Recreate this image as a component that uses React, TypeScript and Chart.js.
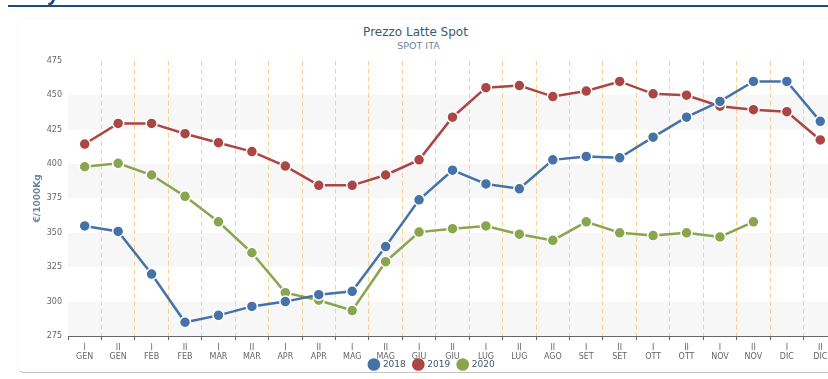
import React, { useEffect, useRef } from "react";
import { Chart, registerables } from "chart.js";

Chart.register(...registerables);

const halves = ["I", "II", "I", "II", "I", "II", "I", "II", "I", "II", "I", "II", "I", "II", "II", "I", "II", "I", "II", "I", "II", "I", "II"];
const months = ["GEN", "GEN", "FEB", "FEB", "MAR", "MAR", "APR", "APR", "MAG", "MAG", "GIU", "GIU", "LUG", "LUG", "AGO", "SET", "SET", "OTT", "OTT", "NOV", "NOV", "DIC", "DIC"];

const seriesNames = ["2018", "2019", "2020"];
const values2018 = [355, 351, 320, 285, 290, 296.5, 300, 305, 307.5, 340, 374, 395.5, 385.5, 382, 403, 405.5, 404.5, 419.5, 434, 445.5, 460, 460, 431];
const values2019 = [414.5, 429.5, 429.5, 422, 415.5, 409, 398.5, 384.5, 384.5, 392, 403, 434, 455.5, 457, 449, 453, 460, 451, 450, 442, 439.5, 438, 417.5];
const values2020 = [398, 400.5, 392, 376.5, 358, 335.5, 306.5, 301, 293.5, 329, 350.5, 353, 355, 349, 344.5, 358, 350, 348, 350, 347, 358, null, null];

const yMin = 275;
const yMax = 475;
const yStep = 25;
const bandStarts = [275, 325, 375, 425];

const colors = ["#4572A7", "#AA4643", "#89A54E"];
const FONT = "'DejaVu Sans', sans-serif";

const bandsPlugin = {
  id: "bands",
  beforeDraw(chart: any) {
    const { ctx, chartArea, scales } = chart;
    const y = scales.y;
    ctx.save();
    ctx.fillStyle = "#f7f7f7";
    bandStarts.forEach((b) => {
      const top = y.getPixelForValue(b + yStep);
      const bottom = y.getPixelForValue(b);
      ctx.fillRect(chartArea.left, top, chartArea.right - chartArea.left, bottom - top);
    });
    ctx.restore();
  },
};

export default function App() {
  const ref = useRef<HTMLCanvasElement>(null);

  useEffect(() => {
    if (!ref.current) return;
    const labels = halves.map((h, i) => [h, months[i]]);
    const allValues = [values2018, values2019, values2020];
    const chart = new Chart(ref.current, {
      type: "line",
      data: {
        labels,
        datasets: allValues.map((vals, i) => ({
          label: seriesNames[i],
          data: vals,
          borderColor: colors[i],
          backgroundColor: colors[i],
          borderWidth: 2.5,
          pointRadius: 5.5,
          pointHoverRadius: 5.5,
          pointBackgroundColor: colors[i],
          pointBorderColor: "#ffffff",
          pointBorderWidth: 1.5,
          tension: 0,
          spanGaps: false,
        })),
      },
      options: {
        responsive: false,
        animation: false,
        layout: { padding: { left: 6, right: 4, top: 10, bottom: 0 } },
        plugins: {
          title: { display: false },
          tooltip: { enabled: false },
          legend: {
            position: "bottom",
            labels: {
              usePointStyle: true,
              pointStyle: "circle",
              boxWidth: 9,
              boxHeight: 9,
              padding: 8,
              color: "#3E576F",
              font: { family: FONT, size: 9 },
              generateLabels: (c: any) =>
                Chart.defaults.plugins.legend.labels.generateLabels(c).map((l: any) => ({ ...l, lineWidth: 0 })),
            },
          },
        },
        scales: {
          x: {
            offset: true,
            afterFit: (s: any) => {
              s.height = 16;
              s._computeLabelArea = () => null;
            },
            grid: {
              offset: true,
              color: (c: any) => (c.index === 0 ? "rgba(0,0,0,0)" : "rgba(252,196,110,0.8)"),
              lineWidth: 1,
              tickColor: "#666",
              tickLength: 4,
              drawTicks: true,
            },
            border: { display: true, color: "#666", width: 1, dash: [5, 3] },
            ticks: {
              autoSkip: false,
              maxRotation: 0,
              minRotation: 0,
              padding: 3,
              color: "#666",
              font: { family: FONT, size: 8 },
            },
          },
          y: {
            min: yMin,
            max: yMax,
            afterFit: (s: any) => {
              s.width = 44;
            },
            grid: { display: false, drawTicks: false },
            border: { display: false },
            ticks: {
              stepSize: yStep,
              padding: 6,
              color: "#666",
              font: { family: FONT, size: 8 },
            },
            title: {
              display: true,
              text: "€/1000Kg",
              color: "#6D869F",
              font: { family: FONT, size: 9, weight: "bold" },
              padding: { top: 8, bottom: 0 },
            },
          },
        },
      },
      plugins: [bandsPlugin],
    } as any);
    return () => chart.destroy();
  }, []);

  return (
    <div style={{ position: "fixed", inset: 0, overflow: "hidden", background: "#fff" }}>
      <div
        style={{
          position: "absolute",
          left: 8,
          top: -18,
          fontFamily: "'Liberation Sans', Arial, sans-serif",
          fontWeight: "bold",
          fontSize: 22,
          lineHeight: "22px",
          color: "#1f4a7c",
          whiteSpace: "nowrap",
        }}
      >
        the year.
      </div>
      <div style={{ position: "absolute", left: 8, right: 0, top: 5, height: 2, background: "#1f4a7c" }} />
      <div
        style={{
          position: "absolute",
          left: 18,
          top: 18,
          width: 900,
          height: 353,
          border: "1px solid #f8f8f8",
          borderBottom: "1px solid #c4c4c4",
          borderRadius: 6,
          background: "#fff",
        }}
      />
      <div
        style={{
          position: "absolute",
          left: 0,
          width: 831,
          top: 25,
          textAlign: "center",
          fontFamily: FONT,
          fontSize: 12,
          lineHeight: "14px",
          color: "#3E576F",
        }}
      >
        Prezzo Latte Spot
      </div>
      <div
        style={{
          position: "absolute",
          left: 0,
          width: 837,
          top: 40,
          textAlign: "center",
          fontFamily: FONT,
          fontSize: 9.5,
          lineHeight: "11px",
          color: "#6D869F",
        }}
      >
        SPOT ITA
      </div>
      <canvas
        ref={ref}
        width={826}
        height={329}
        style={{ position: "absolute", left: 18, top: 50, width: 826, height: 329, display: "block" }}
      />
    </div>
  );
}
